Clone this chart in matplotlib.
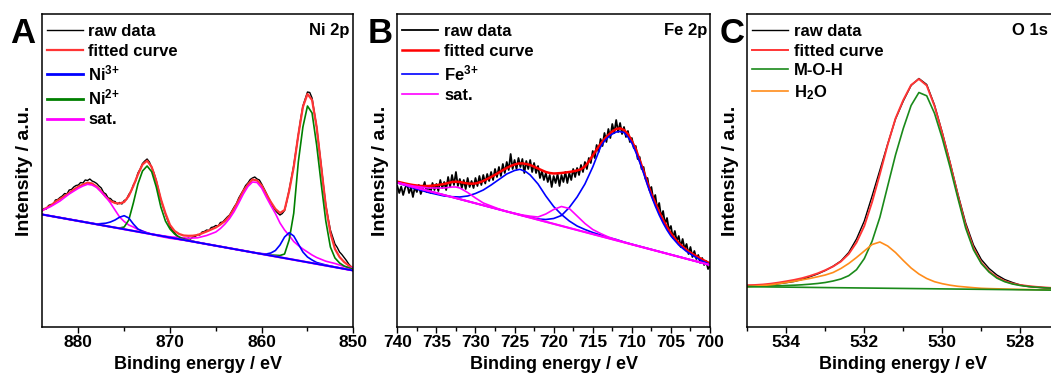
import matplotlib
matplotlib.use('Agg')
import matplotlib.pyplot as plt
import numpy as np
from matplotlib.ticker import MultipleLocator

plt.rcParams['font.family'] = ['Liberation Sans', 'DejaVu Sans']
plt.rcParams['font.weight'] = 'bold'
plt.rcParams['axes.labelweight'] = 'bold'
plt.rcParams['mathtext.fontset'] = 'custom'
plt.rcParams['mathtext.rm'] = 'Liberation Sans:bold'
plt.rcParams['mathtext.it'] = 'Liberation Sans:bold'
plt.rcParams['mathtext.bf'] = 'Liberation Sans:bold'
plt.rcParams['mathtext.default'] = 'rm'

# ---------------- Panel A : Ni 2p (884 -> 850 eV) ----------------
ni_raw = [115.5, 118.5, 118, 121.5, 122.5, 122.5, 127, 127.5, 129.5, 131,
          133.5, 133, 137, 137.5, 140, 141.5, 142, 144.5, 144, 147,
          146.5, 148, 146, 145, 143.5, 141, 139, 134.5, 133, 129,
          128.5, 126, 125.5, 123, 124.5, 123, 126.5, 127.5, 132.5, 135.5,
          142, 146, 154, 158, 163.5, 166, 168, 165, 159.5, 154,
          146.5, 137, 127.5, 120, 113, 106.5, 100.5, 97, 94, 91,
          89.5, 88.5, 89, 87.5, 89, 88, 90, 90.5, 92.5, 92,
          95, 95.5, 97, 96.5, 99.5, 100, 101.5, 101, 104.5, 105,
          107.5, 110, 112, 116, 120, 123.5, 129, 133, 137, 141.5,
          144, 147.5, 149, 150, 148, 147, 143, 138.5, 134, 129,
          124.5, 120, 116.5, 114, 112, 113.5, 116.5, 126, 137, 149,
          161.5, 177, 193, 207.5, 221, 228, 235, 234.5, 229, 214.5,
          200, 181, 161.5, 141, 122, 109, 97, 90, 83, 79.5,
          75, 72.5, 69.5, 66.5, 63, 60.5, 58]
ni_fit = [116.3, 119, 121.5, 125.3, 128, 131, 134, 137.5, 140.3, 142.5,
          144.3, 143.5, 140.3, 135.5, 130, 126, 124, 123.5, 125, 131,
          141, 152.5, 162.5, 166.3, 160, 146, 128, 113.7, 102, 96,
          93, 91.5, 91.2, 91.3, 92, 93.7, 95.5, 97.5, 99.5, 102.5,
          106, 111, 118.5, 127, 136, 142.5, 147.5, 146.5, 141.5, 133,
          125, 118, 114, 117, 136, 160, 192, 220, 233, 227,
          200, 160, 121, 94, 78, 70, 65, 61.5, 58.7]
ni3_e = [884, 878, 877, 876.5, 876, 875.5, 875, 874.5, 874, 873.5, 873, 872.5, 872,
         860.5, 859.5, 859, 858.5, 858, 857.5, 857, 856.5, 856, 855.5, 855, 854.5,
         854, 853, 852, 850]
ni3_y = [112.6, 103, 103.8, 105, 107, 109.8, 111.3, 109, 103, 98, 95.8, 94, 92.8,
         73.8, 73, 74, 76.5, 82, 90, 94.3, 91, 83, 75, 70, 67,
         64.5, 62, 60, 56.5]
ni2_e = [884, 876, 875.5, 875, 874.5, 874, 873.5, 873, 872.5, 872, 871.5, 871, 870.5,
         870, 869.5, 869, 868.5, 868, 867, 860, 859, 858, 857.5, 857, 856.5, 856,
         855.5, 855, 854.5, 854, 853.5, 853, 852.5, 852, 851.5, 851, 850]
ni2_y = [112.6, 99.4, 99, 100, 107, 124, 143, 156, 161, 155.3, 140, 120, 106,
         98, 93, 90, 88, 87, 84.6, 73, 72, 71.5, 73, 87, 113.7, 165,
         200, 221, 214, 182, 143, 106, 80, 69, 64, 61, 57.5]
ni_sat1_e = [884, 883, 882, 881, 880, 879.5, 879, 878.5, 878, 877.5, 877, 876.5, 876,
             875.5, 875, 874.5, 874, 873.5, 873, 872, 871, 870, 869, 868, 866, 850]
ni_sat1_y = [116.3, 120.5, 126, 133, 138.7, 141, 142.7, 142, 139.5, 135, 130, 124, 117,
             110, 105.5, 102, 100, 97.5, 96, 92.7, 90.5, 88.7, 87.5, 86.5, 82.9, 56.5]
ni_sat2_e = [884, 872, 870, 868, 867, 866, 865, 864.5, 864, 863.5, 863, 862.5, 862,
             861.5, 861, 860.5, 860, 859.5, 859, 858.5, 858, 857.5, 857, 856.5, 856,
             855.5, 855, 854.5, 854, 853, 852, 851, 850]
ni_sat2_y = [112.6, 92.8, 90.2, 88.8, 89.2, 91.5, 95, 98.5, 103, 108.5, 115.5, 124, 133,
             140.5, 145, 144.5, 139, 130, 121.5, 113.5, 104, 97, 91.5, 85.5, 81.5,
             78, 75, 72, 69.5, 65.8, 63.5, 60.5, 58.7]
ni_bg_e = [884, 850]
ni_bg_y = [112.6, 56.5]

# ---------------- Panel B : Fe 2p (740 -> 700 eV) ----------------
fe_raw = [141, 134, 140.5, 132, 139, 143, 134, 139.5, 130, 140,
          135, 142, 133, 138.5, 145, 135, 141, 134, 144, 137,
          143, 136, 147, 139, 145, 137, 150, 140, 152, 142,
          155, 141, 148, 139, 147, 138, 149, 140, 146, 139,
          149, 141, 151, 142, 152, 143.5, 153, 146, 155, 147,
          158, 150, 160, 151, 163, 154, 165, 157, 173, 158,
          167, 158, 169, 160, 168, 154, 166, 158, 167, 155,
          164, 154, 161, 149, 156, 147, 154, 145, 152, 140,
          151, 144, 153, 141, 152, 145, 155, 144, 154, 147,
          158, 150, 159, 152, 162, 155, 165, 158, 169, 164,
          176, 169, 182, 175, 188, 181, 194, 185, 198, 189,
          203, 194, 207, 195, 204, 193, 200, 190, 196, 185,
          189, 179, 181, 168, 170, 158, 160, 148, 149, 137,
          140, 127, 132, 118, 124, 110, 116, 103, 109, 97,
          101, 89, 96, 86, 91, 80, 88, 78, 83, 73,
          80, 70, 76, 68, 72, 64, 69, 62, 66, 58,
          61]
fe_fit = [145.3, 144.4, 143.5, 142.7, 142, 141.5, 141, 141, 141, 141.4,
          141.8, 142.4, 143, 144, 145, 145.3, 145, 144.2, 143.5, 143.3,
          143.5, 144.6, 146, 148, 150, 152.2, 154.5, 156.8, 159, 161,
          162.5, 163.5, 163.6, 163, 162, 160.3, 158.5, 156.7, 155, 154,
          153.5, 153.7, 154, 154.5, 155, 155.7, 156.5, 157.8, 160.5, 165.5,
          171.5, 177.5, 183, 188, 192, 195.5, 198, 198.7, 197, 193,
          186, 178, 167, 156, 144, 133, 124, 115, 107, 100,
          93.5, 88.5, 84, 80.3, 77, 74.3, 72, 69.7, 67.5, 65.5, 63.7]
fe3a_e = [740, 738, 736, 734, 733, 732, 731, 730, 729, 728, 727, 726, 725, 724.3,
          723.5, 723, 722, 721, 720, 719, 718, 717, 716, 715, 714, 713, 712, 711, 710, 700]
fe3a_y = [144.3, 139, 134.5, 131, 130.3, 130, 131, 133.5, 137, 142, 147.5, 153, 156.5, 157.7,
          155, 152, 143, 131, 120.5, 112.5, 106, 101, 97.5, 94.5, 92, 89.5, 87.5, 85, 82.8, 62]
fe3b_e = [740, 726, 724, 722, 721, 720, 719, 718, 717, 716, 715, 714.5, 714, 713.5,
          713, 712.5, 712, 711.6, 711, 710.5, 710, 709.5, 709, 708.5, 708, 707.5, 707,
          706.5, 706, 705.5, 705, 704, 703, 702, 701, 700]
fe3b_y = [144.3, 115.5, 111.5, 108, 107.5, 108.5, 111.5, 119.5, 130, 143, 160, 170, 180, 186,
          190, 193, 195, 195.5, 194.5, 190, 184, 175, 165, 154, 142, 131, 121,
          112, 104, 97, 91, 82, 75.5, 70.5, 66, 62.5]
fe_sat1_e = [740, 738, 736, 734, 733, 732.5, 732, 731, 730, 729, 728, 727, 726, 700]
fe_sat1_y = [144.3, 141, 139, 139, 140, 140, 139, 134.5, 129, 124, 121, 118, 115.5, 62]
fe_sat2_e = [740, 728, 726, 724, 723, 722, 721, 720, 719, 718, 717, 716, 715, 714,
             713, 712, 711, 710, 708, 700]
fe_sat2_y = [144.3, 119.6, 115.5, 112, 110.8, 110, 113, 117.5, 120.5, 118.5, 111, 103.5,
             97.5, 93.5, 90, 87.3, 84.8, 82.6, 78.5, 62]
fe_bg_e = [740, 700]
fe_bg_y = [144.3, 62]

# ---------------- Panel C : O 1s (535 -> 527 eV) ----------------
o_raw = [40.5, 40.8, 41, 41.8, 43.2, 44.3, 45.5, 47.5, 50.2, 53,
         56.5, 60.8, 66, 74.5, 88, 106, 131, 157, 183, 208,
         226, 241.5, 248.5, 242.5, 222, 194.5, 164.5, 133, 104, 82,
         67.5, 58.5, 52, 47.5, 44.5, 42, 40.5, 39.8, 39.2, 38.8, 38.5]
o_fit = [41.8, 42.0, 42.5, 43.3, 44.4, 45.7, 47.1, 48.8, 51, 53.6,
         56.8, 60.5, 65.5, 73, 84.5, 101, 125, 153, 182.5, 208.5,
         227, 242, 248, 241.5, 221, 193.5, 163.5, 131.5, 101.5, 79,
         64.5, 55.7, 49.8, 46, 43.5, 42, 41, 40.2, 39.6, 39.1, 38.8]
o_moh = [40.5, 40.6, 40.8, 41, 41.2, 41.5, 41.8, 42.2, 42.8, 43.5,
         44.5, 46, 48, 51.3, 57.3, 68.4, 85.8, 109.8, 141, 172,
         198.6, 221.5, 234.5, 231.2, 213.7, 188.5, 159.6, 128.7, 98.8, 77.2,
         63.5, 54.9, 48.9, 45.3, 43, 41.5, 40.5, 39.8, 39.3, 38.8, 38.5]
o_h2o = [40.3, 40.9, 41.5, 42.2, 43.3, 44.5, 45.7, 47.1, 48.5, 50.2,
         52, 54.5, 58.5, 63.5, 69.5, 76, 82.5, 85, 81, 74.5,
         66.5, 59, 53, 48.5, 45.3, 43.3, 41.8, 40.7, 40, 39.3,
         38.7, 38.4, 38.2, 38, 37.8, 37.6, 37.5, 37.3, 37.2, 37, 36.9]
o_bg_e = [535, 527]
o_bg_y = [40.3, 36.8]

# energy grids of the spectra
ni_e_raw = np.linspace(884, 850, len(ni_raw))
ni_e_fit = np.linspace(884, 850, len(ni_fit))
fe_e_raw = np.linspace(740, 700, len(fe_raw))
fe_e_fit = np.linspace(740, 700, len(fe_fit))
o_e = np.linspace(535, 527, len(o_raw))

fig = plt.figure(figsize=(10.51, 3.76), dpi=100)
W, H = 1051, 376
bottom, height = 49 / H, 313 / H
axA = fig.add_axes([41.7 / W, bottom, 311.6 / W, height])
axB = fig.add_axes([397.3 / W, bottom, 312.7 / W, height])
axC = fig.add_axes([747.3 / W, bottom, 312.0 / W, height])

red_light = '#ff3535'
magenta = '#ff00ff'

# Panel A
axA.plot(ni_e_raw, ni_raw, color='black', lw=1.0, label='raw data')
axA.plot(ni_e_fit, ni_fit, color=red_light, lw=1.6, label='fitted curve')
axA.plot(ni_sat1_e, ni_sat1_y, color=magenta, lw=1.2)
axA.plot(ni_sat2_e, ni_sat2_y, color=magenta, lw=1.2)
axA.plot(ni2_e, ni2_y, color='#008000', lw=1.2)
axA.plot(ni3_e, ni3_y, color='#0000ff', lw=1.2)
axA.plot(ni_bg_e, ni_bg_y, color=magenta, lw=1.6)
axA.plot(ni_bg_e, ni_bg_y, color='#0000ff', lw=1.3)
# legend proxies
axA.plot([], [], color='#0000ff', lw=2, label='Ni$^{3{+}}$')
axA.plot([], [], color='#008000', lw=2, label='Ni$^{2{+}}$')
axA.plot([], [], color=magenta, lw=2, label='sat.')
axA.set_xlim(884, 850)
axA.xaxis.set_major_locator(MultipleLocator(10))
axA.xaxis.set_minor_locator(MultipleLocator(5))

# Panel B
axB.plot(fe_e_raw, fe_raw, color='black', lw=1.3, label='raw data')
axB.plot(fe_e_fit, fe_fit, color='red', lw=1.8, label='fitted curve')
axB.plot(fe3a_e, fe3a_y, color='#0000ff', lw=1.2, label='Fe$^{3{+}}$')
axB.plot(fe3b_e, fe3b_y, color='#0000ff', lw=1.2)
axB.plot(fe_sat1_e, fe_sat1_y, color=magenta, lw=1.2, label='sat.')
axB.plot(fe_sat2_e, fe_sat2_y, color=magenta, lw=1.2)
axB.plot(fe_bg_e, fe_bg_y, color=magenta, lw=1.5)
axB.set_xlim(740, 700)
axB.xaxis.set_major_locator(MultipleLocator(5))
axB.xaxis.set_minor_locator(MultipleLocator(2.5))

# Panel C
axC.plot(o_e, o_raw, color='black', lw=1.0, label='raw data')
axC.plot(o_e, o_fit, color=red_light, lw=1.4, label='fitted curve')
axC.plot(o_e, o_moh, color='#1a8a1a', lw=1.2, label='M-O-H')
axC.plot(o_e, o_h2o, color='#ff8c1a', lw=1.2, label='H$_2$O')
axC.plot(o_bg_e, o_bg_y, color='#1a8a1a', lw=1.2)
axC.set_xlim(535, 527)
axC.xaxis.set_major_locator(MultipleLocator(2))
axC.xaxis.set_minor_locator(MultipleLocator(1))

panels = [(axA, 'Ni 2p', 'A', 10, 4), (axB, 'Fe 2p', 'B', 368, 3), (axC, 'O 1s', 'C', 720, 11)]
for ax, tag, letter, lx, tx in panels:
    ax.set_ylim(0, 313)
    ax.set_yticks([])
    for s in ax.spines.values():
        s.set_linewidth(1.1)
    ax.tick_params(axis='x', which='major', direction='out', length=4.3, width=1.0,
                   labelsize=12.5, pad=1.5)
    ax.tick_params(axis='x', which='minor', direction='out', length=3, width=1.0)
    for lab in ax.get_xticklabels():
        lab.set_fontweight('bold')
    ax.set_xlabel('Binding energy / eV', fontsize=13, fontweight='bold', labelpad=4)
    ax.set_ylabel('Intensity / a.u.', fontsize=14, fontweight='bold', labelpad=6)
    ax.legend(loc='upper left', bbox_to_anchor=(5 / 312, 1 - 10 / 313), frameon=False,
              prop={'size': 12, 'weight': 'bold'}, handlelength=2.15, handletextpad=0.35,
              labelspacing=0.28, borderpad=0, borderaxespad=0)
    ax.text(1 - tx / 312, 1 - 21 / 313, tag, transform=ax.transAxes, ha='right',
            va='baseline', fontsize=12, fontweight='bold')
    fig.text(lx / W, (H - 43) / H, letter, fontsize=25, fontweight='bold', va='baseline')

fig.savefig('out.png', dpi=100)
